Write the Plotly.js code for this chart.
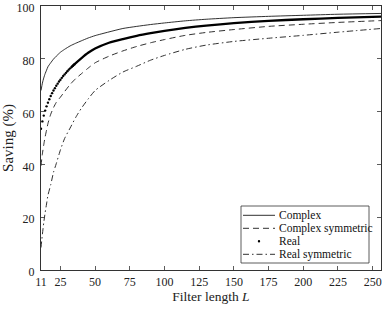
<!DOCTYPE html>
<html>
<head>
<meta charset="utf-8">
<script src="https://cdn.plot.ly/plotly-3.0.1.min.js"></script>
<style>html,body{margin:0;padding:0;background:#fff;}#chart{width:384px;height:309px;}</style>
</head>
<body>
<div id="chart"></div>
<script>
// ---- data ----
const seriesNames = ["Complex", "Complex symmetric", "Real", "Real symmetric"];
const L_lines = [11,12,13,14,15,16,18,20,22,25,28,32,36,40,45,50,60,70,80,90,100,115,130,150,175,200,225,256];
const complexSaving = [68.0,70.8,72.8,74.4,75.7,77.0,78.5,79.9,81.0,82.5,83.6,84.9,85.9,86.8,87.9,88.8,90.2,91.5,92.3,93.0,93.6,94.4,95.0,95.6,96.1,96.5,96.9,97.2];
const complexSymSaving = [39.5,44.0,47.5,50.5,53.0,55.5,59.0,61.5,63.5,65.5,67.6,70.3,72.5,74.3,76.5,78.5,81.0,83.0,84.7,86.1,87.3,88.9,90.0,91.1,92.3,93.1,93.8,94.5];
const realSymSaving = [8.5,13.5,18.0,21.8,25.0,28.3,32.3,37.0,40.3,45.5,49.8,53.8,57.8,61.2,64.8,68.0,71.8,75.0,77.2,79.5,81.3,83.6,85.2,86.6,87.8,88.9,90.1,91.5];
const L_realDots = [11,12,13,14,15,16,17,18,19,20,21,22,23,24,25,26,27,28,29,30,31,32,33,34,35];
const realDotSaving = [53.5,56.3,58.5,60.4,62.0,63.4,64.7,65.9,67.0,68.0,68.9,69.8,70.6,71.4,72.1,72.8,73.5,74.1,74.7,75.3,75.9,76.4,76.9,77.4,77.9];
const L_realDense = [33,35,40,45,50,60,70,80,90,100,115,130,150,175,200,225,256];
const realDenseSaving = [76.9,77.9,80.2,82.3,83.9,86.1,87.5,88.7,89.7,90.6,91.7,92.6,93.5,94.4,95.0,95.5,96.0];
const xTickVals = [11,25,50,75,100,125,150,175,200,225,250];
const yTickVals = [0,20,40,60,80,100];

// ---- layout helpers ----
const M = {l:41, r:3, t:6, b:39};
const W = 384, H = 309;
const PW = W - M.l - M.r, PH = H - M.t - M.b;
const PX = px => (px - M.l) / PW;
const PY = py => (H - M.b - py) / PH;
const FONT = "Liberation Serif, Times New Roman, serif";
const INK = "#1a1a1a";

const traces = [
  {x: L_lines, y: complexSaving, name: seriesNames[0], mode: "lines",
   line: {color: INK, width: 0.9, shape: "spline", smoothing: 0.6}},
  {x: L_lines, y: complexSymSaving, name: seriesNames[1], mode: "lines",
   line: {color: INK, width: 0.9, dash: "6px,4px", shape: "spline", smoothing: 0.6}},
  {x: L_realDots, y: realDotSaving, name: seriesNames[2], mode: "markers",
   marker: {color: "#000", size: 2.4, line: {width: 0}}},
  {x: L_realDense, y: realDenseSaving, name: seriesNames[2] + " (dense)", mode: "lines",
   line: {color: "#000", width: 2.3, shape: "spline", smoothing: 0.6}},
  {x: L_lines, y: realSymSaving, name: seriesNames[3], mode: "lines",
   line: {color: INK, width: 0.9, dash: "6px,3px,1.5px,3px", shape: "spline", smoothing: 0.6}}
];

// ---- custom compact legend (Matlab style) ----
const box = {x0: 241, x1: 369, y0: 206, y1: 263};
const rowY = [215.3, 228.3, 241.3, 254.3];
const dashes = ["solid", "6px,4px", null, "6px,3px,1.5px,3px"];
const shapes = [{type: "rect", xref: "paper", yref: "paper",
  x0: PX(box.x0), x1: PX(box.x1), y0: PY(box.y1), y1: PY(box.y0),
  line: {color: "#333", width: 0.8}, fillcolor: "#fff", layer: "above"}];
const annotations = [];
seriesNames.forEach((nm, i) => {
  const yy = PY(rowY[i]);
  if (dashes[i]) {
    shapes.push({type: "line", xref: "paper", yref: "paper", layer: "above",
      x0: PX(243), x1: PX(275), y0: yy, y1: yy,
      line: {color: INK, width: 0.9, dash: dashes[i]}});
  } else {
    const r = 1.2;
    shapes.push({type: "circle", xref: "paper", yref: "paper", layer: "above",
      x0: PX(259 - r), x1: PX(259 + r), y0: PY(rowY[i] + r), y1: PY(rowY[i] - r),
      fillcolor: "#000", line: {width: 0}});
  }
  annotations.push({xref: "paper", yref: "paper", x: PX(277), y: yy,
    xanchor: "left", yanchor: "middle", showarrow: false, text: nm,
    font: {family: FONT, size: 11.5, color: "#111"}});
});

const axisCommon = {
  showgrid: false, zeroline: false, showline: true, linecolor: "#333", linewidth: 1,
  mirror: "ticks", ticks: "inside", ticklen: 4, tickwidth: 0.8, tickcolor: "#333",
  ticklabeloverflow: "allow",
  tickfont: {family: FONT, size: 12, color: "#222"}
};

const layout = {
  width: W, height: H, margin: M, paper_bgcolor: "#fff", plot_bgcolor: "#fff",
  showlegend: false,
  font: {family: FONT, color: "#222"},
  xaxis: Object.assign({}, axisCommon, {
    range: [11, 256], tickmode: "array", tickvals: xTickVals,
    ticktext: xTickVals.map(String), ticklabelstandoff: 1,
    title: {text: "Filter length <i>L</i>", font: {family: FONT, size: 13.5, color: "#222"}, standoff: 3}
  }),
  yaxis: Object.assign({}, axisCommon, {
    range: [0, 100.02], tickmode: "array", tickvals: yTickVals,
    ticktext: yTickVals.map(String), ticklabelshift: 2, ticklabelstandoff: 3,
    title: {text: "Saving (%)", font: {family: FONT, size: 15, color: "#222"}, standoff: 2}
  }),
  shapes: shapes, annotations: annotations
};

Plotly.newPlot("chart", traces, layout, {displayModeBar: false, staticPlot: true});
</script>
</body>
</html>
